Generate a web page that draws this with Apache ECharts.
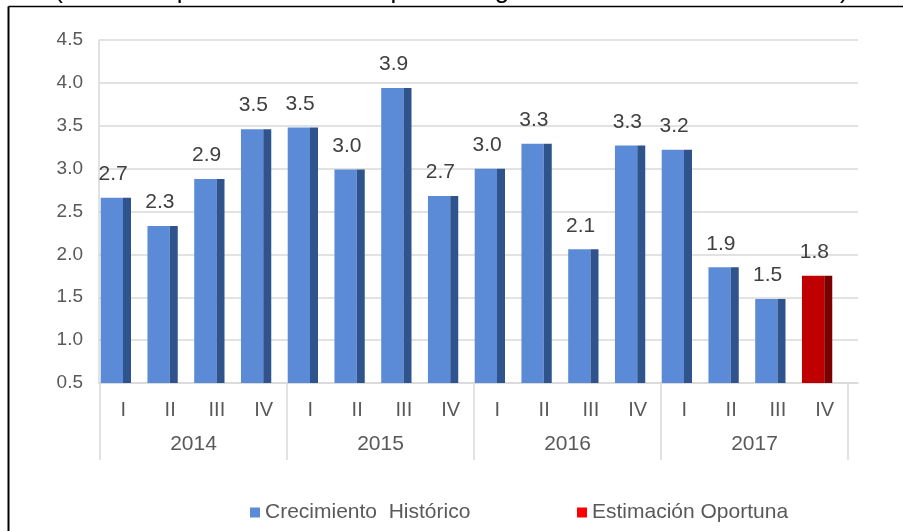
<!DOCTYPE html>
<html>
<head>
<meta charset="utf-8">
<script src="https://cdn.jsdelivr.net/npm/echarts@6/dist/echarts.min.js"></script>
<style>html,body{margin:0;padding:0;background:#fff;}#c{width:903px;height:531px;}</style>
</head>
<body>
<div id="c"></div>
<script>
const quarters = ['I','II','III','IV','I','II','III','IV','I','II','III','IV','I','II','III','IV'];
const years = ['2014','2015','2016','2017'];
const historico = [2.66, 2.33, 2.88, 3.46, 3.48, 2.99, 3.94, 2.68, 3.00, 3.29, 2.06, 3.27, 3.22, 1.85, 1.48, null];
const estimacion = [null, null, null, null, null, null, null, null, null, null, null, null, null, null, null, 1.75];
const yTicks = {min: 0.5, max: 4.5, interval: 0.5};
const seriesNames = ['Crecimiento  Histórico', 'Estimación Oportuna'];
const titleText = '(Variación porcentual con respecto al igual trimestre del año anterior)';

const FONT = 'Liberation Sans, Arial, sans-serif';
const chart = echarts.init(document.getElementById('c'), null, {renderer: 'canvas'});

function makeRender(face, side) {
  return function (params, api) {
    const idx = api.value(0);
    const v = api.value(1);
    if (v == null || isNaN(v)) return;
    const top = api.coord([idx, v]);
    const base = api.coord([idx, yTicks.min]);
    const w = api.size([1, 0])[0];
    const k = w / 46.75;
    const left = top[0] - w / 2 + 0.7 * k;
    const fw = 22.3 * k, sw = 8 * k;
    const h = base[1] - top[1];
    return {
      type: 'group',
      children: [
        {type: 'rect', shape: {x: left, y: top[1], width: fw, height: h}, style: {fill: face}},
        {type: 'rect', shape: {x: left + fw, y: top[1], width: sw, height: h}, style: {fill: side}},
        {type: 'text', x: left + 12.5 * k, y: top[1] - 13,
          style: {text: v.toFixed(1), font: '21px ' + FONT, fill: '#404040', align: 'center', verticalAlign: 'bottom'}}
      ]
    };
  };
}

const option = {
  animation: false,
  backgroundColor: '#fff',
  graphic: [
    {type: 'text', left: 'center', x: 0, top: -22, style: {text: titleText, font: '26px ' + FONT, fill: '#000'}},
    {type: 'line', shape: {x1: 8.5, y1: 6.5, x2: 903, y2: 6.5}, style: {stroke: '#000', lineWidth: 1.5}},
    {type: 'line', shape: {x1: 8.5, y1: 6.5, x2: 8.5, y2: 531}, style: {stroke: '#000', lineWidth: 2}}
  ],
  legend: [
    {data: [seriesNames[0]], left: 245, top: 497, icon: 'rect', itemWidth: 10, itemHeight: 10, itemGap: 4,
      textStyle: {fontSize: 21, color: '#595959', fontFamily: FONT, padding: [0, 0, 0, 0]}},
    {data: [seriesNames[1]], left: 572, top: 497, icon: 'rect', itemWidth: 10, itemHeight: 10, itemGap: 4,
      textStyle: {fontSize: 21, color: '#595959', fontFamily: FONT, padding: [0, 0, 0, 0]}}
  ],
  grid: [
    {left: 100, right: 55, top: 40, bottom: 148},
    {left: 99, right: 45, top: 40, bottom: 148}
  ],
  xAxis: [
    {type: 'category', gridIndex: 0, data: quarters, boundaryGap: true,
      axisLine: {show: false}, axisTick: {show: false},
      axisLabel: {color: '#595959', fontSize: 20, fontFamily: FONT, margin: 17, interval: 0}},
    {type: 'category', gridIndex: 0, data: years, position: 'bottom', boundaryGap: true,
      axisLine: {show: false},
      axisTick: {show: true, length: 77, interval: 0, lineStyle: {color: '#d9d9d9', width: 1.5}},
      axisLabel: {color: '#595959', fontSize: 21, fontFamily: FONT, margin: 51, interval: 0}},
    {type: 'value', gridIndex: 1, min: 0, max: 1, show: true,
      axisLine: {show: true, lineStyle: {color: '#d9d9d9', width: 1.5}},
      axisTick: {show: false}, axisLabel: {show: false}, splitLine: {show: false}}
  ],
  yAxis: [
    {type: 'value', gridIndex: 0, min: yTicks.min, max: yTicks.max, interval: yTicks.interval, show: false},
    {type: 'value', gridIndex: 1, min: yTicks.min, max: yTicks.max, interval: yTicks.interval,
      axisLine: {show: true, lineStyle: {color: '#d9d9d9', width: 1.5}},
      axisTick: {show: false},
      axisLabel: {color: '#595959', fontSize: 19, fontFamily: FONT, margin: 16, formatter: v => v.toFixed(1)},
      splitLine: {show: true, lineStyle: {color: '#d9d9d9', width: 1.5}}}
  ],
  series: [
    {name: seriesNames[0], type: 'custom', xAxisIndex: 0, yAxisIndex: 0,
      itemStyle: {color: '#5b8bd7'},
      encode: {x: 0, y: 1},
      renderItem: makeRender('#5b8bd7', '#2f538c'),
      data: historico.map((v, i) => [i, v == null ? '-' : v])},
    {name: seriesNames[1], type: 'custom', xAxisIndex: 0, yAxisIndex: 0,
      itemStyle: {color: '#ff0000'},
      encode: {x: 0, y: 1},
      renderItem: makeRender('#c00000', '#7a0000'),
      data: estimacion.map((v, i) => [i, v == null ? '-' : v])}
  ]
};
chart.setOption(option);
</script>
</body>
</html>
